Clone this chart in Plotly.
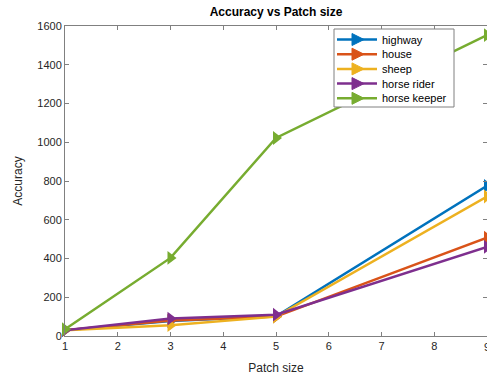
import plotly.graph_objects as go

# Patch sizes evaluated and accuracy per scene
patch_size = [1, 3, 5, 9]
highway = [30, 77, 102, 775]
house = [30, 80, 100, 508]
sheep = [30, 56, 100, 720]
horse_rider = [30, 90, 110, 460]
horse_keeper = [35, 403, 1022, 1553]

names = ["highway", "house", "sheep", "horse rider", "horse keeper"]
values = [highway, house, sheep, horse_rider, horse_keeper]
colors = ["#0072BD", "#D95319", "#EDB120", "#7E2F8E", "#77AC30"]

W, H = 487, 378
ML, MR, MT, MB = 65, 0, 26, 42
PW, PH = W - ML - MR, H - MT - MB
FONT = "Liberation Sans"


def px_x(p):
    """Pixel column -> paper x."""
    return (p - ML) / PW


def px_y(p):
    """Pixel row -> paper y."""
    return (H - MB - p) / PH


fig = go.Figure()
for name, vals, color in zip(names, values, colors):
    fig.add_trace(go.Scatter(
        x=patch_size, y=vals, name=name, mode="lines+markers",
        line=dict(color=color, width=2.5),
        marker=dict(symbol="triangle-right", size=12, color=color),
        cliponaxis=False, showlegend=False,
    ))

axis_common = dict(
    showgrid=False, zeroline=False, showline=True, linecolor="#808080",
    linewidth=1, mirror="ticks", ticks="inside", ticklen=4,
    tickcolor="#808080", tickfont=dict(family=FONT, size=11, color="#262626"),
    automargin=False,
)

# Compact boxed legend in the top-right corner of the axes
shapes = []
annotations = []
box_l, box_r, box_t, box_b = 334, 454, 29, 107
shapes.append(dict(type="rect", xref="paper", yref="paper",
                   x0=px_x(box_l), x1=px_x(box_r), y0=px_y(box_b), y1=px_y(box_t),
                   line=dict(color="#808080", width=1), fillcolor="white", layer="above"))
row0, row_gap = 39.5, 14.7
for i, (name, color) in enumerate(zip(names, colors)):
    yy = px_y(row0 + i * row_gap)
    shapes.append(dict(type="line", xref="paper", yref="paper",
                       x0=px_x(337), x1=px_x(377), y0=yy, y1=yy,
                       line=dict(color=color, width=2.5), layer="above"))
    shapes.append(dict(type="path", xref="paper", yref="paper",
                       xsizemode="pixel", ysizemode="pixel",
                       xanchor=px_x(357), yanchor=yy,
                       path="M -5,-6 L 7,0 L -5,6 Z",
                       fillcolor=color, line=dict(color=color, width=1), layer="above"))
    annotations.append(dict(text=name, xref="paper", yref="paper",
                            x=px_x(380), y=yy, xanchor="left", yanchor="middle",
                            showarrow=False,
                            font=dict(family=FONT, size=11, color="black")))

# Last x tick label sits on the figure edge
annotations.append(dict(text="9", xref="x", yref="paper", x=9, y=0,
                        xanchor="center", yanchor="top", yshift=-3, showarrow=False,
                        font=dict(family=FONT, size=11, color="#262626")))

fig.update_layout(
    width=W, height=H,
    margin=dict(l=ML, r=MR, t=MT, b=MB),
    paper_bgcolor="white", plot_bgcolor="white",
    title=dict(text="<b>Accuracy vs Patch size</b>", x=(276 / W), xanchor="center",
               y=1 - 12 / H, yanchor="middle",
               font=dict(family=FONT, size=12, color="black")),
    xaxis=dict(range=[1, 9], tickvals=[1, 2, 3, 4, 5, 6, 7, 8],
               title=dict(text="Patch size", standoff=12,
                          font=dict(family=FONT, size=12, color="#262626")),
               **axis_common),
    yaxis=dict(range=[0, 1600], dtick=200,
               title=dict(text="Accuracy", standoff=12,
                          font=dict(family=FONT, size=12, color="#262626")),
               **axis_common),
    shapes=shapes,
    annotations=annotations,
    showlegend=False,
)

fig.write_html("out.html")
